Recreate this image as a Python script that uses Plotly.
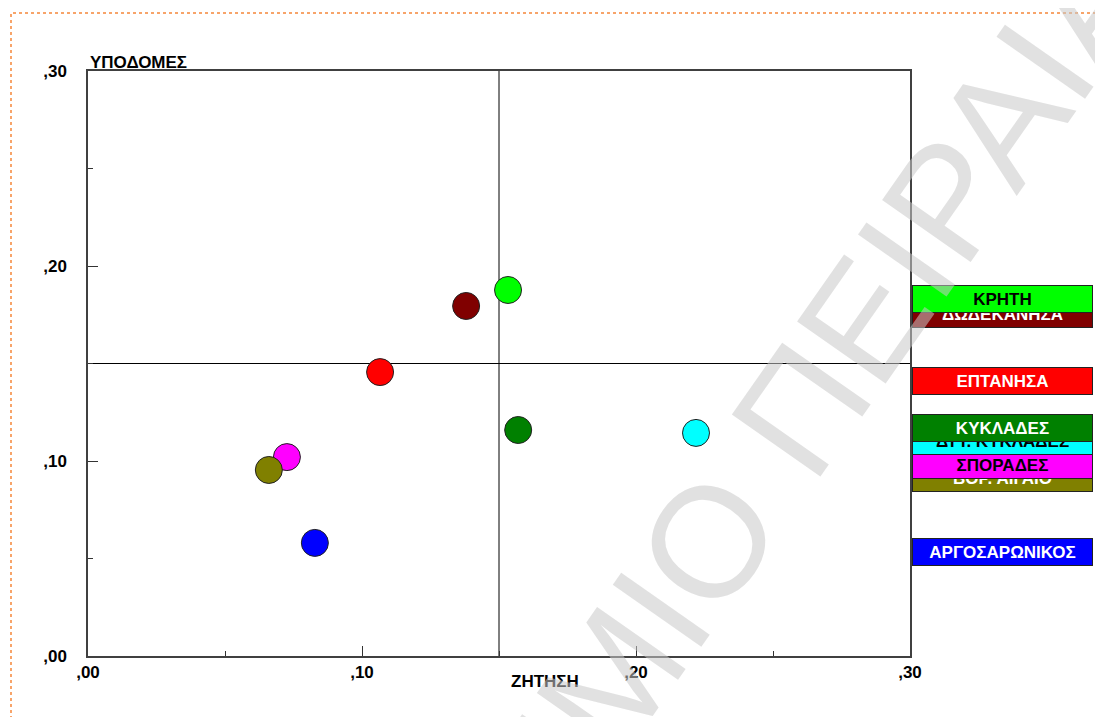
import plotly.graph_objects as go

# ---- data ----
regions = ["ΚΡΗΤΗ", "ΔΩΔΕΚΑΝΗΣΑ", "ΕΠΤΑΝΗΣΑ", "ΚΥΚΛΑΔΕΣ", "ΔΥΤ. ΚΥΚΛΑΔΕΣ",
           "ΣΠΟΡΑΔΕΣ", "ΒΟΡ. ΑΙΓΑΙΟ", "ΑΡΓΟΣΑΡΩΝΙΚΟΣ"]
zitisi = [0.1533, 0.1380, 0.1066, 0.1570, 0.2219, 0.0726, 0.0660, 0.0828]
ypodomes = [0.1877, 0.1795, 0.1456, 0.1159, 0.1144, 0.1020, 0.0954, 0.0580]
tick_vals = [0.0, 0.1, 0.2, 0.3]
tick_text = [",00", ",10", ",20", ",30"]
x_title = "ΖΗΤΗΣΗ"
y_title = "ΥΠΟΔΟΜΕΣ"
watermark = "ΠΑΝΕΠΙΣΤΗΜΙΟ ΠΕΙΡΑΙΑ"
mean_x = 0.15
mean_y = 0.15

# ---- styles ----
colors = ["#00FF00", "#800000", "#FF0000", "#008000", "#00FFFF",
          "#FF00FF", "#808000", "#0000FF"]
text_colors = ["black", "white", "white", "white", "black", "black", "white", "white"]
label_yshift = [-9, -8.5, -8.5, 2.5, -8, -7.5, -8.5, -9]
FONT = "Liberation Sans, Arial, sans-serif"

# page offset (body margin) compensation
OFF = 8
W, H = 1103 - OFF, 717 - OFF
PL, PR, PT, PB = 88 - OFF, 910 - OFF, 71 - OFF, 656 - OFF   # plot area in figure px
PW, PH = PR - PL, PB - PT


def px(xp):  # screen x -> paper
    return (xp - OFF - PL) / PW


def py(yp):  # screen y -> paper
    return (PB - (yp - OFF)) / PH


fig = go.Figure()
fig.add_trace(go.Scatter(
    x=zitisi, y=ypodomes, mode="markers",
    marker=dict(size=27, color=colors, line=dict(color="#222222", width=1)),
    text=regions, hoverinfo="text", showlegend=False,
))

shapes = [
    dict(type="line", xref="x", yref="y", x0=mean_x, x1=mean_x, y0=0, y1=0.30,
         line=dict(color="black", width=1), layer="below"),
    dict(type="line", xref="x", yref="y", x0=0, x1=0.30, y0=mean_y, y1=mean_y,
         line=dict(color="black", width=1), layer="below"),
    dict(type="rect", xref="paper", yref="paper", x0=px(11), x1=px(1125), y0=py(730), y1=py(13),
         line=dict(color="#F5873A", width=1.5, dash="dot"), layer="below"),
]

annotations = []
order = sorted(range(len(regions)), key=lambda i: ypodomes[i])
for i in order:
    annotations.append(dict(
        x=0.30, y=ypodomes[i], xref="x", yref="y", xanchor="left", yanchor="middle",
        xshift=2, yshift=label_yshift[i], text="<b>%s</b>" % regions[i], showarrow=False,
        bgcolor=colors[i], bordercolor="#222222", borderwidth=1, borderpad=1,
        width=177, height=24, align="center", valign="middle",
        font=dict(family=FONT, size=17, color=text_colors[i]),
    ))

annotations.append(dict(
    x=px(545), y=py(681), xref="paper", yref="paper",
    xanchor="center", yanchor="middle", text="<b>%s</b>" % x_title, showarrow=False,
    font=dict(family=FONT, size=17, color="black"),
))
annotations.append(dict(
    x=0, y=1.0, xref="paper", yref="paper", xanchor="left", yanchor="bottom",
    text="<b>%s</b>" % y_title, showarrow=False, yshift=-3,
    font=dict(family=FONT, size=17, color="black"),
))
annotations.append(dict(
    x=px(587), y=py(714), xref="paper", yref="paper",
    xanchor="center", yanchor="middle", text=watermark, showarrow=False,
    textangle=-55, font=dict(family=FONT, size=157, color="rgba(200,200,200,0.55)"),
))

bold_ticks = ["<b>%s</b>" % t for t in tick_text]
axis_common = dict(
    range=[0, 0.30], tickvals=tick_vals, ticktext=bold_ticks,
    showgrid=False, zeroline=False, showline=True, mirror=True,
    linecolor="#404040", linewidth=1.5,
    ticks="inside", ticklen=10, tickcolor="#333333", tickwidth=1,
    minor=dict(dtick=0.05, ticks="inside", ticklen=5, tickcolor="#333333"),
    tickfont=dict(family=FONT, size=17, color="black"),
)

fig.update_layout(
    width=W, height=H,
    margin=dict(l=PL, r=W - PR, t=PT, b=H - PB),
    paper_bgcolor="white", plot_bgcolor="white",
    xaxis=dict(**axis_common, ticklabelstandoff=0),
    yaxis=dict(**axis_common, ticklabelstandoff=16),
    shapes=shapes, annotations=annotations,
    showlegend=False,
)

fig.write_html("out.html")
